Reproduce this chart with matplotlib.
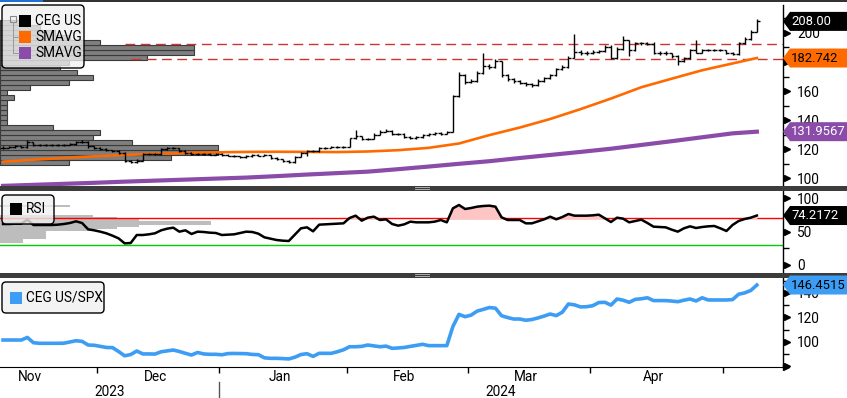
import numpy as np
import pandas as pd
import matplotlib
matplotlib.use("Agg")
import matplotlib.pyplot as plt
import matplotlib.transforms as mtransforms
from matplotlib.collections import LineCollection
from matplotlib.patches import Rectangle, Polygon, FancyBboxPatch
from matplotlib.ticker import MultipleLocator

plt.rcParams["font.family"] = ["Roboto", "DejaVu Sans"]

W, H = 847, 398

# ---- data ----
START, END = "2023-11-08", "2024-05-08"
HOLIDAYS = ["2023-11-23", "2023-12-25", "2024-01-01", "2024-01-15",
            "2024-02-19", "2024-03-29", "2024-05-27"]

closes = [121.0, 121.5, 121.8, 121.3, 124.5, 122.8, 122.5, 122.8, 122.6, 122.8,
          123.0, 123.5, 124.5, 125.0, 121.8, 121.0, 120.0, 119.0, 118.5, 117.5,
          112.0, 111.0, 112.0, 116.5, 116.8, 116.5, 120.0, 120.5, 120.8, 118.8,
          117.0, 116.5, 116.5, 116.7, 116.2, 116.5, 116.0, 115.5, 115.0, 114.6,
          115.0, 116.0, 115.5, 115.9, 113.8, 113.0, 112.0, 110.8, 114.7, 117.0,
          118.8, 118.5, 120.5, 121.0, 121.3, 121.5, 121.6, 127.3, 128.7, 126.9,
          127.0, 130.0, 132.0, 132.5, 130.3, 130.5, 128.5, 127.3, 128.0, 129.5,
          130.5, 130.8, 130.5, 132.0, 156.5, 171.0, 166.5, 167.0, 172.5, 177.5,
          176.5, 180.5, 171.0, 168.0, 167.0, 165.5, 164.5, 164.0, 167.0, 169.0,
          171.0, 175.0, 176.5, 183.0, 187.0, 186.5, 186.0, 187.0, 187.5, 190.5,
          182.5, 189.0, 195.0, 188.0, 193.0, 193.0, 192.5, 186.0, 186.5, 186.0,
          184.0, 181.0, 182.5, 188.0, 186.5, 188.0, 188.3, 188.5, 188.3, 186.0,
          185.5, 193.0, 196.0, 201.0, 208.0]

highs = [121.8, 122.3, 122.5, 122.4, 126.5, 125.0, 123.4, 123.5, 123.3, 123.5,
         123.7, 124.2, 125.3, 126.0, 125.2, 122.3, 121.4, 120.5, 119.6, 119.0,
         117.8, 112.6, 112.8, 117.2, 117.5, 117.4, 120.6, 121.4, 121.6, 121.0,
         119.2, 117.6, 117.2, 117.3, 117.0, 117.1, 117.0, 116.4, 115.9, 115.5,
         115.6, 116.6, 116.4, 116.5, 116.1, 114.2, 113.4, 112.3, 115.2, 117.6,
         119.4, 119.3, 121.1, 121.7, 121.9, 122.1, 122.2, 127.9, 133.0, 129.2,
         127.8, 130.8, 132.8, 133.5, 132.8, 131.3, 130.8, 128.9, 128.7, 130.1,
         131.2, 131.6, 131.4, 132.6, 157.0, 173.0, 171.5, 168.5, 173.5, 186.0,
         178.5, 182.0, 181.0, 171.5, 169.0, 167.5, 166.3, 165.5, 168.0, 170.0,
         172.0, 176.0, 177.8, 184.0, 199.0, 188.5, 187.5, 188.0, 188.6, 191.5,
         192.0, 190.0, 198.0, 195.5, 193.8, 194.0, 194.0, 193.5, 187.5, 187.3,
         186.5, 184.5, 183.5, 188.8, 195.0, 188.8, 189.0, 189.3, 189.2, 188.6,
         186.8, 193.8, 197.0, 202.0, 209.5]

lows = [120.3, 120.6, 121.0, 120.7, 121.0, 122.0, 121.8, 122.0, 121.9, 122.0,
        122.2, 122.6, 123.0, 124.0, 121.0, 120.2, 119.3, 118.4, 117.8, 116.8,
        111.0, 110.2, 110.6, 111.8, 115.9, 115.8, 116.2, 119.6, 119.9, 118.2,
        116.5, 115.9, 115.8, 116.0, 115.6, 115.8, 115.3, 114.9, 114.4, 114.0,
        114.1, 114.7, 114.9, 115.0, 113.2, 112.4, 111.3, 110.1, 110.6, 114.4,
        115.5, 117.8, 118.2, 120.1, 120.5, 120.7, 120.8, 121.4, 127.0, 126.2,
        126.1, 126.8, 129.6, 131.6, 129.7, 129.6, 127.9, 126.7, 126.8, 127.6,
        129.0, 130.0, 129.8, 130.1, 131.8, 156.0, 165.0, 165.5, 166.5, 172.0,
        175.0, 176.0, 170.0, 167.0, 165.8, 164.5, 163.5, 162.8, 163.5, 166.5,
        168.5, 170.5, 174.3, 176.0, 182.5, 185.0, 185.0, 185.3, 186.0, 186.8,
        182.0, 182.0, 188.5, 184.0, 187.5, 192.0, 192.0, 185.5, 185.0, 185.0,
        183.0, 178.0, 180.0, 182.0, 186.0, 186.0, 187.3, 187.5, 187.4, 185.3,
        184.6, 185.0, 192.5, 195.5, 200.5]

# moving averages, read every 5th session (plus the last one)
sma_fast = [111.3, 112.6, 113.9, 115.0, 115.9, 116.7, 117.3, 117.7, 118.0, 118.1,
            118.0, 117.9, 118.3, 119.2, 120.8, 123.8, 129.6, 134.8, 140.7, 147.5,
            154.8, 162.6, 168.5, 174.3, 179.0, 182.742]
sma_slow = [94.6, 95.3, 96.0, 96.7, 97.5, 98.2, 98.9, 99.6, 100.3, 101.3,
            102.4, 103.4, 104.4, 106.1, 107.9, 109.8, 111.6, 113.8, 115.9, 118.0,
            120.2, 122.8, 125.4, 128.1, 130.8, 131.9567]

rsi = [61.5, 61.5, 62.0, 62.0, 68.0, 60.0, 60.0, 60.0, 60.0, 60.5,
       61.5, 63.0, 65.5, 63.0, 53.5, 52.0, 50.0, 47.5, 44.0, 40.0,
       32.5, 33.0, 45.0, 45.0, 46.0, 47.6, 52.0, 54.5, 56.0, 50.0,
       52.0, 46.5, 50.0, 49.5, 48.5, 48.0, 45.0, 45.5, 46.0, 48.0,
       50.0, 49.5, 47.0, 41.5, 39.5, 37.5, 36.5, 36.0, 45.5, 55.0,
       56.5, 50.5, 60.5, 61.0, 61.5, 62.0, 62.5, 70.5, 74.0, 66.5,
       71.0, 72.5, 67.5, 68.5, 61.5, 59.0, 61.0, 65.0, 64.0, 64.0,
       64.0, 65.0, 67.5, 64.0, 85.0, 90.0, 84.0, 85.5, 87.5, 88.5,
       89.0, 87.5, 71.5, 67.5, 67.5, 67.5, 62.5, 62.5, 65.5, 68.5,
       72.5, 68.5, 72.0, 76.5, 74.0, 74.0, 74.0, 74.5, 75.5, 70.0,
       64.5, 71.0, 69.5, 64.0, 66.0, 68.0, 63.0, 57.5, 57.0, 56.5,
       53.0, 50.0, 55.0, 58.0, 55.5, 57.0, 58.0, 58.5, 55.0, 51.0,
       60.0, 66.0, 69.0, 71.0, 74.2172]

ratio = [101.4, 101.4, 101.4, 101.4, 103.5, 99.2, 98.7, 98.7, 98.7, 98.7,
         98.8, 99.8, 100.8, 100.3, 97.3, 97.1, 96.2, 95.3, 95.2, 92.0,
         88.5, 89.5, 92.4, 90.0, 90.0, 89.9, 91.8, 92.5, 93.2, 92.0,
         90.5, 89.1, 91.2, 90.0, 89.7, 89.7, 89.3, 90.3, 90.4, 90.3,
         90.2, 89.6, 89.4, 86.8, 86.4, 86.4, 86.2, 85.9, 87.3, 89.5,
         90.2, 88.0, 90.5, 90.5, 90.5, 91.8, 93.4, 95.9, 95.9, 96.2,
         97.3, 96.6, 95.9, 96.4, 94.6, 94.9, 95.3, 96.2, 97.0, 97.9,
         96.8, 96.8, 96.8, 96.8, 112.5, 122.4, 120.5, 121.8, 125.1, 126.5,
         128.0, 127.5, 121.3, 119.8, 118.6, 118.6, 117.6, 118.2, 119.5, 121.0,
         122.7, 121.4, 124.2, 130.9, 130.2, 128.5, 128.7, 129.5, 132.1, 132.3,
         130.0, 135.0, 134.0, 132.3, 134.7, 135.2, 136.0, 133.7, 133.7, 133.7,
         133.3, 132.8, 134.0, 135.0, 133.4, 136.0, 134.2, 134.2, 134.2, 134.2,
         134.5, 138.9, 140.0, 142.0, 146.4515]

# price histogram (volume at price), bins from 109 upward
vap_bottom, vap_step = 108.97, 3.448
vap_volume = [69, 171, 218, 218, 132, 93, 100, 53, 7, 7,
              7, 7, 7, 14, 7, 30, 69, 93, 77, 60,
              69, 147, 194, 194, 100, 70, 55, 40, 25]

# RSI histogram
rsi_levels = [88.5, 73.5, 70.5, 67.5, 64.5, 61.5, 58.5, 55.5, 52.5,
              49.5, 46.5, 43.5, 40.5, 37.5, 34.5]
rsi_counts = [70, 93, 117, 139, 211, 211, 139, 117, 93,
              46, 46, 46, 46, 23, 23]

level_lines = [192.4, 182.0]
level_start = [20, 21]

# ---- layout helpers ----
dates = pd.bdate_range(START, END, freq="C", holidays=HOLIDAYS)
x = np.arange(len(dates))
assert len(x) == len(closes) == len(rsi) == len(ratio)
sma_x = np.r_[x[::5], x[-1]]
XMAX = 128.3

fig = plt.figure(figsize=(W / 100, H / 100), dpi=100)
PIX = mtransforms.Affine2D().scale(1 / 100) + fig.dpi_scale_trans


def frame(top, bottom):
    return [0, 1 - bottom / H, 783 / W, (bottom - top) / H]


ax_p = fig.add_axes(frame(5, 186))
ax_r = fig.add_axes(frame(191, 273))
ax_s = fig.add_axes(frame(278, 367))

ORANGE = "#ff6a00"
PURPLE = "#8a4ca8"
BLUE = "#3d9df5"
FS = 9.8

# ---- price panel ----
ytr = ax_p.get_yaxis_transform()
for k, vol in enumerate(vap_volume):
    ax_p.add_patch(Rectangle((0, vap_bottom + k * vap_step + 0.25), vol / 783,
                             vap_step - 0.5, transform=ytr, facecolor="#7f7f7f",
                             edgecolor="#3a3a3a", lw=0.8, zorder=1))

opens = [closes[0]] + closes[:-1]
segs = []
for i, o, h, l, c in zip(x, opens, highs, lows, closes):
    segs.append([(i, l), (i, h)])
    segs.append([(i - 0.45, o), (i, o)])
    segs.append([(i, c), (i + 0.45, c)])
ax_p.add_collection(LineCollection(segs, colors="black", linewidths=1.0, zorder=4))

ax_p.plot(sma_x, sma_fast, color=ORANGE, lw=1.9, zorder=3)
ax_p.plot(sma_x, sma_slow, color=PURPLE, lw=3.0, zorder=3)
for lv, st in zip(level_lines, level_start):
    ax_p.plot([st, XMAX], [lv, lv], color="#cc3333", lw=1.0, dashes=(7, 4), zorder=2)
ax_p.set_ylim(94.5, 219.3)

# ---- RSI panel ----
ytr = ax_r.get_yaxis_transform()
for lv, cnt in zip(rsi_levels, rsi_counts):
    ax_r.add_patch(Rectangle((0, lv - 0.8), cnt / 783, 1.6, transform=ytr,
                             facecolor="#bdbdbd", edgecolor="none", zorder=1))
ax_r.axhline(70, color="#ff0000", lw=1.0, zorder=2)
ax_r.axhline(30, color="#00d000", lw=1.0, zorder=2)
rsi_a = np.array(rsi)
ax_r.fill_between(x, rsi_a, 70, where=rsi_a > 70, interpolate=True,
                  color="#ffc4c4", zorder=2)
ax_r.plot(x, rsi, color="black", lw=1.8, zorder=3)
ax_r.set_ylim(-12, 111)

# ---- relative panel ----
ax_s.plot(x, ratio, color=BLUE, lw=2.6, zorder=3)
ax_s.set_ylim(79.3, 152.2)

# ---- axes styling ----
# (180 sits under the SMAVG tag in the original, so it gets no label)
axis_specs = [
    (ax_p, [100, 120, 140, 160, 180, 200], ["100", "120", "140", "160", "", "200"], 10),
    (ax_r, [0, 50, 100], ["0", "50", "100"], 25),
    (ax_s, [100, 120, 140], ["100", "120", "140"], 10),
]
for ax, ticks, labels, minor in axis_specs:
    ax.set_xlim(-0.5, XMAX)
    for s in ("left", "top", "bottom"):
        ax.spines[s].set_visible(False)
    ax.spines["right"].set_color("black")
    ax.spines["right"].set_linewidth(1.0)
    ax.yaxis.tick_right()
    ax.set_yticks(ticks, labels)
    ax.yaxis.set_minor_locator(MultipleLocator(minor))
    ax.tick_params(axis="y", which="major", length=0, pad=10, labelsize=FS)
    ax.tick_params(axis="y", which="minor", length=4, width=1, direction="out")
    ax.tick_params(axis="x", which="both", bottom=False, labelbottom=False)
    arrow_tr = mtransforms.offset_copy(ax.get_yaxis_transform(), fig=fig, x=3.5, units="dots")
    arrows = ticks + ([80] if ax is ax_s else [])
    ax.plot([1.0] * len(arrows), arrows, linestyle="none", marker=">", ms=5,
            color="black", transform=arrow_tr, clip_on=False, zorder=5)

# bottom date axis
ax_s.spines["bottom"].set_visible(True)
ax_s.spines["bottom"].set_color("black")
all_days = pd.bdate_range("2023-11-01", "2024-05-31", freq="C", holidays=HOLIDAYS)
pos = np.arange(len(all_days)) - all_days.get_loc(pd.Timestamp(START))
months = all_days.to_period("M")
bounds, centers, names = [], [], []
for m in months.unique():
    p = pos[months == m]
    if p[0] > -1:
        bounds.append(p[0] - 0.5)
    c = (p[0] + p[-1]) / 2 - 0.5
    if c < XMAX - 8:
        centers.append(c)
        names.append(m.strftime("%b"))
ax_s.set_xticks(bounds)
ax_s.tick_params(axis="x", which="major", bottom=True, length=4, width=1, direction="out")
ax_s.plot([1.0], [0.0], marker=">", ms=5, color="black", transform=mtransforms.offset_copy(
    ax_s.transAxes, fig=fig, x=3, units="dots"), clip_on=False)
xtr = ax_s.get_xaxis_transform()
for c, n in zip(centers, names):
    ax_s.text(c, -10 / 89, n, transform=xtr, ha="center", va="center", fontsize=FS)
year_split = bounds[1]
for label, (a, b) in (("2023", (-0.5, year_split)), ("2024", (year_split, XMAX))):
    ax_s.text((a + b) / 2, -25 / 89, label, transform=xtr, ha="center", va="center", fontsize=FS)
ax_s.plot([year_split, year_split], [-15 / 89, -31 / 89], color="#555555", lw=1,
          transform=xtr, clip_on=False)

# ---- figure furniture (pixel coordinates, y from top) ----
def rect(x0, y0, x1, y1, **kw):
    fig.patches.append(Rectangle((x0, H - y1), x1 - x0, y1 - y0, transform=PIX, **kw))


rect(0, 0, W, 2, facecolor="#333333", edgecolor="none")
rect(0, 0, 43, 2, facecolor="#1f6fd6", edgecolor="none")
for y0, y1 in ((186, 190.5), (273, 278)):
    rect(0, y0, W, y1, facecolor="#3c3c3c", edgecolor="none")
    rect(415, y0 + 1, 430, y0 + 1.8, facecolor="#a8a8a8", edgecolor="none")
    rect(415, y1 - 1.8, 430, y1 - 1, facecolor="#a8a8a8", edgecolor="none")


def legend_box(x0, y0, x1, y1):
    fig.patches.append(FancyBboxPatch((x0, H - y1), x1 - x0, y1 - y0,
                                      boxstyle="round,pad=0,rounding_size=4", transform=PIX,
                                      facecolor=(0.94, 0.94, 0.94, 0.78), edgecolor="black", lw=1))


def legend_entry(xs, yc, color, text):
    rect(xs, yc - 6, xs + 12, yc + 6, facecolor=color, edgecolor="none")
    fig.text(xs + 16, H - yc, text, transform=PIX, ha="left", va="center", fontsize=FS)


legend_box(2, 5, 84, 68)
rect(10, 16, 16, 22, facecolor="none", edgecolor="#888888", lw=0.8)
rect(11.5, 18.7, 14.5, 19.3, facecolor="#666666", edgecolor="none")
fig.lines.append(plt.Line2D([13, 13, 19], [H - 22, H - 53, H - 53], transform=PIX, color="#999999", lw=0.7))
fig.lines.append(plt.Line2D([13, 19], [H - 37, H - 37], transform=PIX, color="#999999", lw=0.7))
legend_entry(19, 21, "black", "CEG US")
legend_entry(19, 37, ORANGE, "SMAVG")
legend_entry(19, 53, PURPLE, "SMAVG")

legend_box(2, 195, 54, 224)
legend_entry(10, 209, "black", "RSI")
legend_box(2, 282, 104, 313)
legend_entry(10, 297.5, BLUE, "CEG US/SPX")


def value_tag(ax, value, text, fc, tc):
    yd = ax.transData.transform((0, value))[1] * 100 / fig.dpi
    hh = 9.5
    pts = [(783, yd), (790, yd + hh), (W, yd + hh), (W, yd - hh), (790, yd - hh)]
    fig.patches.append(Polygon(pts, closed=True, transform=PIX, facecolor=fc, edgecolor="none"))
    fig.text(791, yd, text, transform=PIX, ha="left", va="center", color=tc, fontsize=9.4)


value_tag(ax_p, closes[-1], f"{closes[-1]:.2f}", "black", "white")
value_tag(ax_p, sma_fast[-1], f"{sma_fast[-1]:.3f}", ORANGE, "black")
value_tag(ax_p, sma_slow[-1], f"{sma_slow[-1]:.4f}", PURPLE, "white")
value_tag(ax_r, rsi[-1], f"{rsi[-1]:.4f}", "black", "white")
value_tag(ax_s, ratio[-1], f"{ratio[-1]:.4f}", BLUE, "black")

fig.savefig("out.png", dpi=100)
